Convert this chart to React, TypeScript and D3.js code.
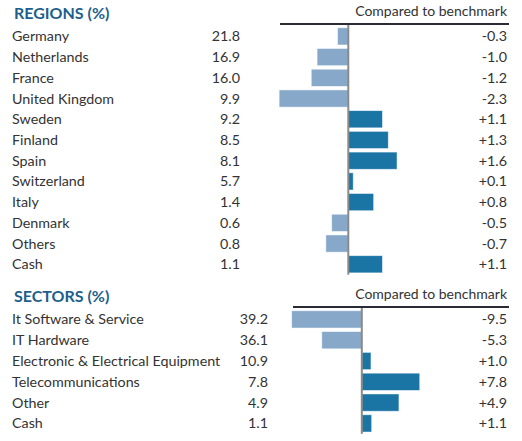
import React from "react";
import * as d3 from "d3";

const regionNames = ["Germany", "Netherlands", "France", "United Kingdom", "Sweden", "Finland", "Spain", "Switzerland", "Italy", "Denmark", "Others", "Cash"];
const regionWeights = [21.8, 16.9, 16.0, 9.9, 9.2, 8.5, 8.1, 5.7, 1.4, 0.6, 0.8, 1.1];
const regionRelative = [-0.3, -1.0, -1.2, -2.3, 1.1, 1.3, 1.6, 0.1, 0.8, -0.5, -0.7, 1.1];

const sectorNames = ["It Software & Service", "IT Hardware", "Electronic & Electrical Equipment", "Telecommunications", "Other", "Cash"];
const sectorWeights = [39.2, 36.1, 10.9, 7.8, 4.9, 1.1];
const sectorRelative = [-9.5, -5.3, 1.0, 7.8, 4.9, 1.1];

const NEG = "#87a8c9";
const POS = "#1a74a4";
const TITLE = "#1d5f8c";
const FONT = "Lato, 'Open Sans', sans-serif";

const fmtW = (v: number) => v.toFixed(1);
const fmtR = (v: number) => (v > 0 ? "+" : "") + v.toFixed(1);

type PanelProps = {
  title: string;
  names: string[];
  weights: number[];
  rel: number[];
  top: number;
  step: number;
  zeroX: number;
  pxPerUnit: number;
  lineStart: number;
  valueX: number;
};

function Panel(p: PanelProps) {
  const n = p.names.length;
  const y = d3
    .scaleBand<string>()
    .domain(p.names)
    .range([p.top + 12, p.top + 12 + n * p.step])
    .paddingInner(0.17)
    .paddingOuter(0.085);
  const ext = d3.extent(p.rel) as [number, number];
  const x = d3
    .scaleLinear()
    .domain(ext)
    .range([p.zeroX + ext[0] * p.pxPerUnit, p.zeroX + ext[1] * p.pxPerUnit]);
  const x0 = x(0);
  const lineY = p.top + 10;
  const pad = 2;
  return (
    <g>
      <text x={14} y={p.top + 5} fill={TITLE} fontWeight="bold" fontSize={16} fontFamily={FONT}>
        {p.title}
      </text>
      <text x={507} y={p.top + 2} textAnchor="end" fill="#333" fontSize={14} fontFamily={FONT}>
        Compared to benchmark
      </text>
      <line x1={p.lineStart} x2={509} y1={lineY} y2={lineY} stroke="#2b2b36" strokeWidth={2} />
      {p.names.map((name, i) => {
        const yc = (y(name) as number) + y.bandwidth() / 2;
        const v = p.rel[i];
        const xe = x(v) + (v < 0 ? -pad : pad);
        return (
          <g key={name}>
            <text x={12} y={yc + 5} fill="#333" fontSize={14.3} fontFamily={FONT}>
              {name}
            </text>
            <text x={p.valueX} y={yc + 5} textAnchor="end" fill="#333" fontSize={14.3} fontFamily={FONT}>
              {fmtW(p.weights[i])}
            </text>
            <rect
              x={Math.min(xe, x0)}
              y={y(name)}
              width={Math.abs(xe - x0)}
              height={y.bandwidth()}
              fill={v < 0 ? NEG : POS}
              stroke="rgba(255,255,255,0.6)"
              strokeWidth={0.8}
            />
            <text x={507} y={yc + 5} textAnchor="end" fill="#333" fontSize={14.3} fontFamily={FONT}>
              {fmtR(v)}
            </text>
          </g>
        );
      })}
      <line
        x1={x0}
        x2={x0}
        y1={lineY + 1}
        y2={p.top + 12 + n * p.step}
        stroke="#8a8a8a"
        strokeWidth={2}
      />
    </g>
  );
}

export default function App() {
  return (
    <svg width={522} height={441} style={{ position: "absolute", left: 0, top: 0 }}>
      <rect width={522} height={441} fill="#fff" />
      <Panel
        title="REGIONS (%)"
        names={regionNames}
        weights={regionWeights}
        rel={regionRelative}
        top={14}
        step={20.72}
        zeroX={348.3}
        pxPerUnit={29.2}
        lineStart={280}
        valueX={240}
      />
      <Panel
        title="SECTORS (%)"
        names={sectorNames}
        weights={sectorWeights}
        rel={sectorRelative}
        top={297}
        step={20.8}
        zeroX={361.8}
        pxPerUnit={7.17}
        lineStart={293}
        valueX={268}
      />
    </svg>
  );
}
